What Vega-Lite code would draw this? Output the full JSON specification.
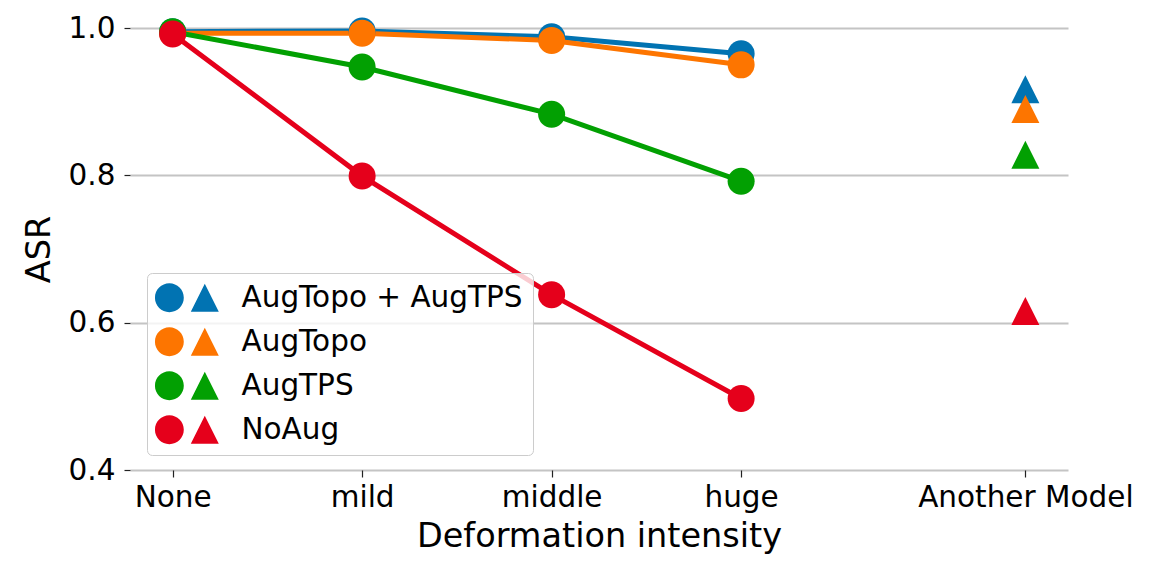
{
  "$schema": "https://vega.github.io/schema/vega-lite/v6.json",
  "autosize": "none",
  "width": 938,
  "height": 442,
  "padding": {"left": 130, "top": 28, "right": 85, "bottom": 92},
  "background": "white",
  "config": {
    "font": "DejaVu Sans",
    "view": {"stroke": null},
    "axis": {"labelFont": "DejaVu Sans", "titleFont": "DejaVu Sans", "labelColor": "#000", "titleColor": "#000", "titleFontWeight": "normal"}
  },
  "data": {
    "values": [
      {"model": "AugTopo + AugTPS", "x": 0, "asr": 0.995, "kind": "line", "rank": 1},
      {"model": "AugTopo + AugTPS", "x": 1, "asr": 0.996, "kind": "line", "rank": 1},
      {"model": "AugTopo + AugTPS", "x": 2, "asr": 0.988, "kind": "line", "rank": 1},
      {"model": "AugTopo + AugTPS", "x": 3, "asr": 0.965, "kind": "line", "rank": 1},
      {"model": "AugTopo + AugTPS", "x": 4.5, "asr": 0.917, "kind": "tri", "rank": 1},
      {"model": "AugTopo", "x": 0, "asr": 0.993, "kind": "line", "rank": 2},
      {"model": "AugTopo", "x": 1, "asr": 0.993, "kind": "line", "rank": 2},
      {"model": "AugTopo", "x": 2, "asr": 0.983, "kind": "line", "rank": 2},
      {"model": "AugTopo", "x": 3, "asr": 0.950, "kind": "line", "rank": 2},
      {"model": "AugTopo", "x": 4.5, "asr": 0.890, "kind": "tri", "rank": 2},
      {"model": "AugTPS", "x": 0, "asr": 0.995, "kind": "line", "rank": 3},
      {"model": "AugTPS", "x": 1, "asr": 0.947, "kind": "line", "rank": 3},
      {"model": "AugTPS", "x": 2, "asr": 0.883, "kind": "line", "rank": 3},
      {"model": "AugTPS", "x": 3, "asr": 0.792, "kind": "line", "rank": 3},
      {"model": "AugTPS", "x": 4.5, "asr": 0.828, "kind": "tri", "rank": 3},
      {"model": "NoAug", "x": 0, "asr": 0.992, "kind": "line", "rank": 4},
      {"model": "NoAug", "x": 1, "asr": 0.799, "kind": "line", "rank": 4},
      {"model": "NoAug", "x": 2, "asr": 0.638, "kind": "line", "rank": 4},
      {"model": "NoAug", "x": 3, "asr": 0.497, "kind": "line", "rank": 4},
      {"model": "NoAug", "x": 4.5, "asr": 0.616, "kind": "tri", "rank": 4}
    ]
  },
  "encoding": {
    "x": {
      "field": "x", "type": "quantitative",
      "scale": {"domain": [-0.225, 4.725], "nice": false, "zero": false},
      "axis": {
        "values": [0, 1, 2, 3, 4.5],
        "labelExpr": "datum.value == 0 ? 'None' : datum.value == 1 ? 'mild' : datum.value == 2 ? 'middle' : datum.value == 3 ? 'huge' : 'Another Model'",
        "title": "Deformation intensity",
        "titleFontSize": 33.5,
        "titlePadding": 9,
        "labelFontSize": 29.5,
        "labelPadding": 6,
        "labelFlush": false,
        "labelOverlap": false,
        "labelLimit": 500,
        "domain": false,
        "grid": false,
        "ticks": true,
        "tickSize": 7,
        "tickColor": "#222",
        "tickWidth": 1.2
      }
    },
    "y": {
      "field": "asr", "type": "quantitative",
      "scale": {"domain": [0.4, 1.0], "nice": false, "zero": false},
      "axis": {
        "values": [0.4, 0.6, 0.8, 1.0],
        "format": ".1f",
        "title": "ASR",
        "titleFontSize": 33.5,
        "titlePadding": 12,
        "labelFontSize": 29.5,
        "labelPadding": 9,
        "labelFlush": false,
        "domain": false,
        "grid": true,
        "gridColor": "#c4c4c4",
        "gridWidth": 2,
        "ticks": true,
        "tickSize": 6,
        "tickColor": "#222",
        "tickWidth": 1.2
      }
    },
    "color": {
      "field": "model", "type": "nominal",
      "scale": {
        "domain": ["AugTopo + AugTPS", "AugTopo", "AugTPS", "NoAug"],
        "range": ["#0173b2", "#fd7500", "#02a002", "#e5001b"]
      },
      "legend": {
        "title": null,
        "orient": "none",
        "legendX": 17,
        "legendY": 245,
        "symbolType": "M-1.2,0A1.03,1.03 0 1,0 0.86,0A1.03,1.03 0 1,0 -1.2,0ZM2.36,-1L1.36,1L3.36,1Z",
        "symbolSize": 784,
        "symbolStrokeWidth": 0,
        "symbolOpacity": 1,
        "labelFont": "DejaVu Sans",
        "labelFontSize": 29.5,
        "labelColor": "#000",
        "labelOffset": 55,
        "rowPadding": 13,
        "padding": 10,
        "fillColor": "rgba(255,255,255,0.8)",
        "strokeColor": "#cccccc",
        "cornerRadius": 5,
        "labelLimit": 500,
        "encode": {
          "symbols": {"update": {"fill": {"scale": "color", "field": "value"}, "stroke": {"value": "transparent"}, "opacity": {"value": 1}}}
        }
      }
    }
  },
  "layer": [
    {
      "transform": [{"filter": "datum.kind == 'line'"}],
      "mark": {"type": "line", "strokeWidth": 5},
      "encoding": {"order": {"field": "x", "type": "quantitative"}}
    },
    {
      "transform": [{"filter": "datum.kind == 'line'"}],
      "mark": {"type": "point", "filled": true, "shape": "circle", "size": 729, "opacity": 1},
      "encoding": {"order": {"field": "rank", "type": "quantitative"}}
    },
    {
      "transform": [{"filter": "datum.kind == 'tri'"}],
      "mark": {"type": "point", "filled": true, "shape": "M0,-1L-1,1L1,1Z", "size": 784, "opacity": 1},
      "encoding": {"order": {"field": "rank", "type": "quantitative"}}
    }
  ]
}
